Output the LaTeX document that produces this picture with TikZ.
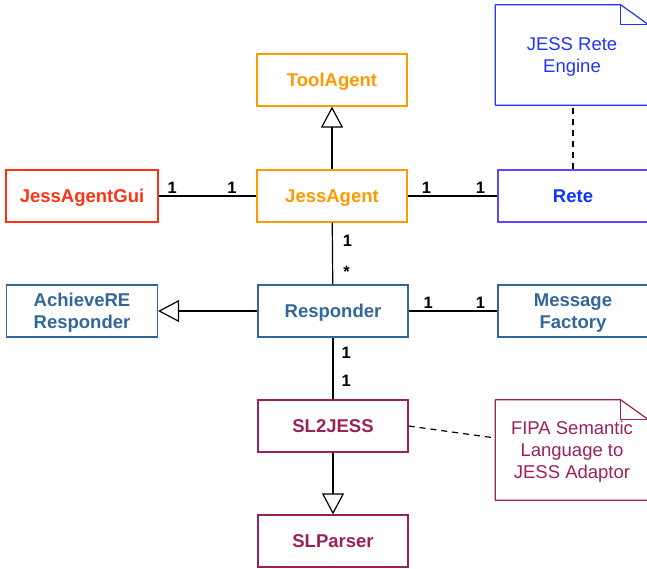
\documentclass[tikz,border=0pt]{standalone}
\usepackage{fontspec}
\setmainfont{Liberation Sans}
\usepackage{tikz}
\usetikzlibrary{arrows.meta,calc}

\definecolor{agentorange}{RGB}{255,153,0}
\definecolor{guired}{RGB}{255,51,17}
\definecolor{reteline}{RGB}{102,68,255}
\definecolor{retetext}{RGB}{17,51,255}
\definecolor{engineblue}{RGB}{34,51,255}
\definecolor{steel}{RGB}{51,102,153}
\definecolor{plum}{RGB}{153,34,90}

\begin{document}
\begin{tikzpicture}[x=1pt,y=-1pt,
	cls/.style={draw,line width=1.2pt,minimum width=150pt,minimum height=52pt,align=center,text depth=0pt,font=\fontsize{18.5}{22}\selectfont\bfseries},
	note/.style={minimum width=153pt,minimum height=100pt,align=center,text depth=0pt,font=\fontsize{18.5}{22}\selectfont},
	noteline/.style={line width=1.2pt,line join=round},
	mult/.style={font=\fontsize{16.5}{18}\selectfont\bfseries,inner sep=1pt},
	assoc/.style={line width=1.2pt},
	inherit/.style={-{Triangle[open,length=21pt,width=22pt]},line width=1.2pt},
	anchorline/.style={line width=1.2pt,dash pattern=on 6pt off 5pt}]
		\useasboundingbox (0,0) rectangle (647,568);
		\draw
		node[cls,draw=agentorange,text=agentorange] (toolagent) at (332, 80){ToolAgent}
		node[cls,draw=agentorange,text=agentorange] (jessagent) at (332, 196){JessAgent}
		node[cls,draw=guired,text=guired,minimum width=152pt] (gui) at (82, 196){JessAgentGui}
		node[cls,draw=reteline,text=retetext] (rete) at (573, 196){Rete}
		node[note,text=engineblue] (engine) at (572, 55){JESS Rete\\Engine}
		node[cls,draw=steel,text=steel,minimum width=151pt] (achieve) at (82, 311){AchieveRE\\Responder}
		node[cls,draw=steel,text=steel] (responder) at (333, 311){Responder}
		node[cls,draw=steel,text=steel] (factory) at (573, 311){Message\\Factory}
		node[cls,draw=plum,text=plum] (sljess) at (333, 426){SL2JESS}
		node[note,text=plum] (fipa) at (572, 450){FIPA Semantic\\Language to\\JESS Adaptor}
		node[cls,draw=plum,text=plum] (slparser) at (333, 541){SLParser};
		\draw[noteline,engineblue] (engine.south west) |- ([xshift=-28pt]engine.north east) -- ([yshift=-20pt]engine.north east) -- (engine.south east) -- cycle;
			\draw[noteline,engineblue] ([xshift=-28pt]engine.north east) |- ([yshift=-20pt]engine.north east);
		\draw[noteline,plum] (fipa.south west) |- ([xshift=-28pt]fipa.north east) -- ([yshift=-20pt]fipa.north east) -- (fipa.south east) -- cycle;
			\draw[noteline,plum] ([xshift=-28pt]fipa.north east) |- ([yshift=-20pt]fipa.north east);
		\draw [inherit] (jessagent) -- (toolagent);
		\draw [inherit] (responder) -- (achieve);
		\draw [inherit] (sljess) -- (slparser);
		\draw [assoc] (gui) -- (jessagent) node[mult,pos=0.14,above=1pt] {1} node[mult,pos=0.75,above=1pt] {1};
		\draw [assoc] (jessagent) -- (rete) node[mult,pos=0.21,above=1pt] {1} node[mult,pos=0.81,above=1pt] {1};
		\draw [assoc] (responder) -- (factory) node[mult,pos=0.22,above=1pt] {1} node[mult,pos=0.81,above=1pt] {1};
		\draw [assoc] (jessagent) -- (responder) node[mult,pos=0.29,right=9pt] {1} node[mult,pos=0.79,right=9pt] {*};
		\draw [assoc] (responder) -- (sljess) node[mult,pos=0.25,right=7pt] {1} node[mult,pos=0.7,right=7pt] {1};
		\draw [anchorline] (rete) -- (rete |- engine.south);
		\draw [anchorline] (sljess.east) -- ([yshift=12pt]fipa.west);
		\end{tikzpicture}
\end{document}
